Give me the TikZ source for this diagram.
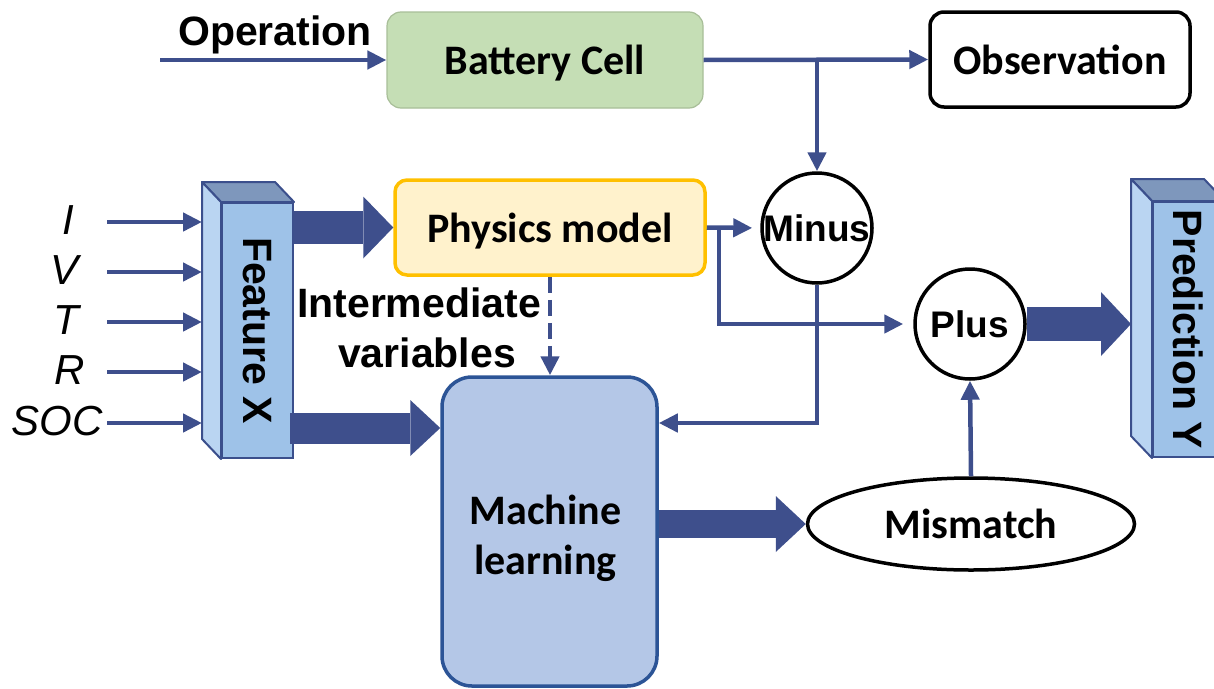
\documentclass[tikz,border=0pt]{standalone}
\usepackage{fontspec}
\setmainfont{Liberation Sans}
\newfontfamily\calibri{Carlito}
\usetikzlibrary{arrows.meta,shapes.geometric,calc}

\definecolor{linkblue}{RGB}{62,79,140}
\definecolor{cellgreen}{RGB}{197,222,181}
\definecolor{cellborder}{RGB}{168,190,152}
\definecolor{physfill}{RGB}{255,242,204}
\definecolor{physborder}{RGB}{255,192,0}
\definecolor{mlfill}{RGB}{180,199,231}
\definecolor{mlborder}{RGB}{44,84,150}
\definecolor{prismfront}{RGB}{158,194,232}
\definecolor{prismleft}{RGB}{186,213,242}
\definecolor{prismtopc}{RGB}{126,151,188}
\definecolor{prismedge}{RGB}{59,79,140}

% side and top faces of a box drawn in perspective behind a front face node
\newcommand{\drawprismsides}[3]{%
  \filldraw[fill=prismtopc, draw=prismedge, line width=2pt, line join=round]
    (#1.north west) -- ++(#2,#3) -- ($(#1.north east)+(#2,#3)$) -- (#1.north east) -- cycle;
  \filldraw[fill=prismleft, draw=prismedge, line width=2pt, line join=round]
    (#1.north west) -- ++(#2,#3) -- ($(#1.south west)+(#2,#3)$) -- (#1.south west) -- cycle;
}

\begin{document}
\begin{tikzpicture}[x=1pt,y=-1pt,
  arial/.style={font=\fontsize{41}{50}\selectfont\bfseries},
  cali/.style={font=\calibri\fontsize{42}{50}\selectfont\bfseries},
  inlabel/.style={font=\fontsize{42}{50}\selectfont\itshape, inner sep=0pt,
    text height=29pt, text depth=0pt},
  link/.style={draw=linkblue, line width=4.5pt, -{Triangle[length=19pt,width=18pt]}},
  fat/.style 2 args={draw=linkblue, line width=#1,
    -{Triangle[length=30pt,width=#2,line width=0pt]}},
  cellbox/.style={cali, draw=cellborder, line width=1.2pt, fill=cellgreen,
    rounded corners=14pt, minimum width=316pt, minimum height=96pt,
    text height=29pt, text depth=0pt, inner sep=0pt},
  obsbox/.style={cali, draw=black, line width=3.5pt, fill=white,
    rounded corners=14pt, minimum width=260pt, minimum height=95pt,
    text height=29pt, text depth=0pt, inner sep=0pt},
  physbox/.style={cali, draw=physborder, line width=3.5pt, fill=physfill,
    rounded corners=12pt, minimum width=310pt, minimum height=95pt,
    text height=29pt, text depth=0pt, inner sep=0pt},
  mlbox/.style={draw=mlborder, line width=3.5pt, fill=mlfill,
    rounded corners=30pt, minimum width=215pt, minimum height=309pt,
    inner sep=0pt},
  ring/.style={circle, draw=black, line width=3.5pt, fill=white,
    minimum size=110pt, inner sep=0pt, font=\fontsize{37}{44}\selectfont\bfseries,
    text height=27pt, text depth=0pt},
  oval/.style={ellipse, draw=black, line width=3.5pt, fill=white,
    minimum width=327pt, minimum height=92pt, inner sep=0pt, cali,
    text height=28pt, text depth=0pt},
  prism/.style={arial, draw=prismedge, line width=2pt, fill=prismfront,
    minimum width=71pt, minimum height=255pt, inner sep=0pt}
]
\useasboundingbox (0,0) rectangle (1214,688);
\clip (0,0) rectangle (1214,688);

% blocks
\node[cellbox] (bc) at (545,60) {Battery Cell};
\node[obsbox] (obs) at (1060,59.5) {Observation};
\node[physbox] (pm) at (550,227.5) {Physics model};
\node[mlbox] (ml) at (549.5,531.5) {};
\node[cali, align=center, inner sep=0pt] (mltext) at ($(ml.center)+(-4,7)$)
  {Machine\\learning};
\node[ring] (mi) at (817,228) {Minus};
\node[ring] (pl) at (970,324) {Plus};
\node[oval] (mm) at (971,524) {Mismatch};

% feature and prediction columns
\node[prism] (fx) at (257.5,330.5) {\rotatebox{-90}{Feature X}};
\drawprismsides{fx}{-19}{-20}
\node[prism] (py) at (1188.5,329.5) {\rotatebox{-90}{Prediction Y}};
\drawprismsides{py}{-21}{-22}
\coordinate (fxside) at ($(fx.west)+(-19,0)$);
\coordinate (pyside) at ($(py.west)+(-21,0)$);

% text labels
\node[arial, anchor=base] (op) at (275,45) {Operation};
\node[arial, align=center] (iv) at (419,328)
  {Intermediate\\\hspace*{16pt}variables};

% inputs
\foreach \nm/\txt/\lx/\yy in {I/I/68/222, V/V/65/272, T/T/66/322, R/R/70/372, S/SOC/57/423}{
  \node[inlabel] (lab\nm) at (\lx,\yy-2) {\txt};
  \coordinate (src\nm) at (107,\yy);
  \draw[link] (src\nm) -- (src\nm -| fxside);
}

% thin connectors
\coordinate (opstart) at (160,60);
\draw[link] (opstart) -- (bc.west);
\draw[link] (bc.east) -- (obs.west);
\coordinate (jtop) at (bc.east -| mi.north);
\draw[link] (jtop) -- (mi.north);
\draw[link, shorten >=8pt] (pm.east) -- (mi.west);
\coordinate (jphys) at ($(pm.east)+(12,0)$);
\draw[link, shorten >=10pt] (jphys) |- (pl.west);
\draw[link] (mi.south) |- (ml.east |- 0,423);
\draw[link] (mm.north) -- (pl.south);
\draw[link, dash pattern=on 16pt off 7pt] (pm.south) -- (pm.south |- ml.north);

% wide connectors
\draw[fat={33pt}{62pt}] (fx.east |- pm.west) -- (pm.west);
\draw[fat={31pt}{56pt}] ($(fx.east |- 0,428)+(-4,0)$) -- (ml.west |- 0,428);
\draw[fat={28pt}{56pt}] (ml.east |- mm.west) -- (mm.west);
\draw[fat={34pt}{64pt}] (pl.east) -- (pyside |- pl.east);
\end{tikzpicture}
\end{document}
